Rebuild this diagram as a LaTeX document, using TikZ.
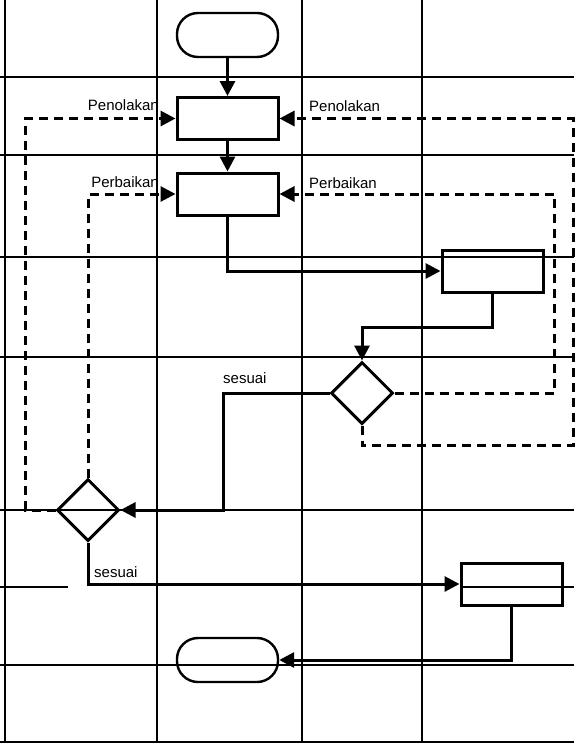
\documentclass[tikz,border=0pt]{standalone}
\usepackage{fontspec}
\setmainfont{Liberation Sans}
\usepackage{tikz}
\usetikzlibrary{shapes.geometric,arrows.meta,positioning}
\tikzset
{
    gridline/.style = {draw=black, line width=1.3pt},
    terminal/.style = {rectangle, rounded corners=21pt, draw=black, line width=2.4pt, minimum width=101pt, minimum height=44pt},
    process/.style  = {rectangle, draw=black, line width=3pt, minimum width=101pt, minimum height=42pt},
    decision/.style = {diamond, draw=black, line width=3pt, minimum width=62pt, minimum height=62pt, inner sep=0pt},
    flow/.style     = {draw=black, line width=3pt, -{Triangle[length=15pt,width=15pt]}},
    reject/.style   = {flow, dash pattern=on 9pt off 6pt},
    lbl/.style      = {inner sep=0pt, font=\fontsize{15}{17}\selectfont}
}
\begin{document}
\begin{tikzpicture}[x=1pt, y=-1pt]
\useasboundingbox (0,0) rectangle (574,745);
% swimlane grid
\foreach \gx in {5,157,302,422}
\draw[gridline] (\gx,0) -- (\gx,742);
\foreach \gy in {77,155,257,357,510,665,742}
\draw[gridline] (0,\gy) -- (574,\gy);
\draw[gridline] (0,587) -- (68,587);
\draw[gridline] (461,587) -- (574,587);
% shapes
\node[terminal] (start) at (227.5,35) {};
\node[process] (tolak) at (227.5,118.5) {};
\node[process] (baik) at (227.5,194) {};
\node[process] (cek) at (492.5,271) {};
\node[decision] (d1) at (362,393) {};
\node[decision] (d2) at (88,510) {};
\node[process] (arsip) at (511.5,584) {};
\node[terminal] (finish) at (227.5,660) {};
% labels
\node[lbl, anchor=base east] (tolakL) at (159,110) {Penolakan};
\node[lbl, anchor=base east] (baikL) at (159,187) {Perbaikan};
\node[lbl, anchor=base west] (tolakR) at (309,111) {Penolakan};
\node[lbl, anchor=base west] (baikR) at (309,188) {Perbaikan};
\node[lbl, anchor=base west] (ok1) at (223,383) {sesuai};
\node[lbl, anchor=base west] (ok2) at (94,577) {sesuai};
% connectors
\draw[flow] (start) -- (tolak);
\draw[flow] (tolak) -- (baik);
\draw[flow] (baik.south) |- (cek.west);
\draw[flow] (cek.south) -- ++(0,34) -| (d1.north);
\draw[flow] (d1.west) -- ++(-106,0) |- (d2.east);
\draw[reject] (d1.east) -- ++(160,0) |- (baik.east);
\draw[reject] (d1.south) -- ++(0,20) -- ++(211,0) |- (tolak.east);
\draw[reject] (d2.north) |- (baik.west);
\draw[reject] (d2.west) -- ++(-30,0) |- (tolak.west);
\draw[flow] (d2.south) |- (arsip.west);
\draw[flow] (arsip.south) |- (finish.east);
\end{tikzpicture}
\end{document}
